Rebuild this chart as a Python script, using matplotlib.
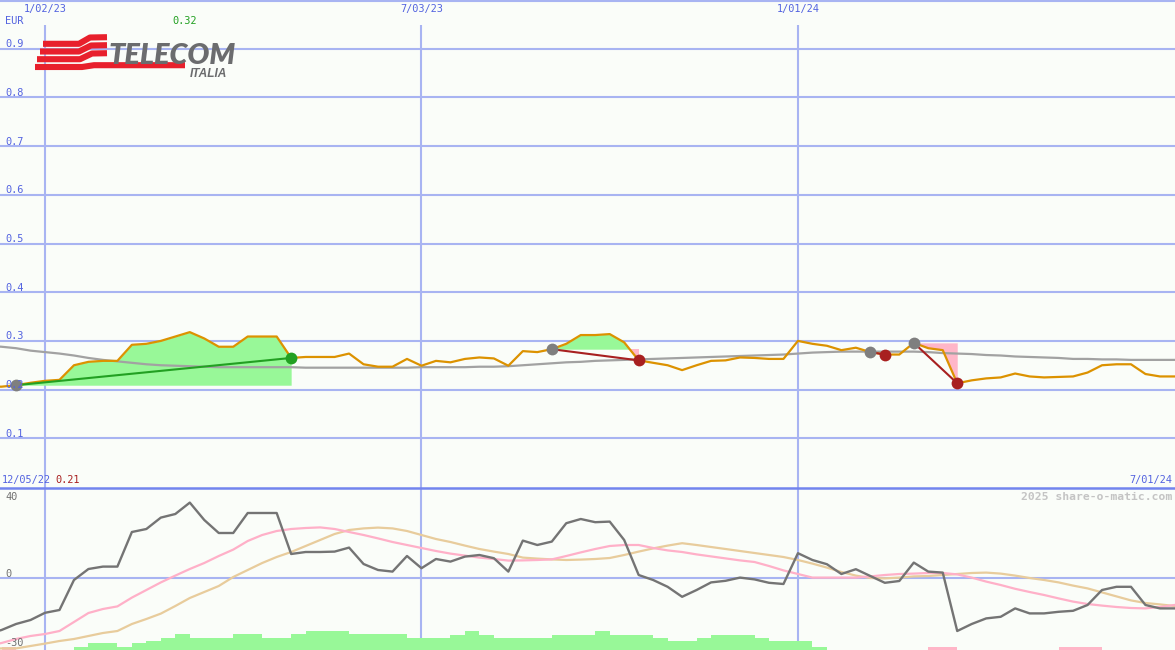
import numpy as np
import matplotlib
matplotlib.use("Agg")
import matplotlib.pyplot as plt
from matplotlib import font_manager as fm

# ---------------- data (weekly, week 0 = 12/05/22) ----------------
weeks = list(range(0, 83))

price = [0.206, 0.206, 0.209, 0.214, 0.218, 0.220, 0.250, 0.257, 0.259, 0.259,
         0.292, 0.294, 0.300, 0.309, 0.318, 0.305, 0.288, 0.288, 0.309, 0.309,
         0.309, 0.265, 0.267, 0.267, 0.267, 0.274, 0.252, 0.247, 0.247, 0.263,
         0.249, 0.259, 0.256, 0.263, 0.266, 0.264, 0.249, 0.279, 0.277, 0.283,
         0.294, 0.312, 0.312, 0.314, 0.297, 0.260, 0.255, 0.250, 0.240, 0.250,
         0.259, 0.260, 0.266, 0.265, 0.263, 0.263, 0.300, 0.294, 0.290, 0.281,
         0.286, 0.277, 0.272, 0.272, 0.296, 0.285, 0.281, 0.213, 0.219, 0.223,
         0.225, 0.233, 0.227, 0.225, 0.226, 0.227, 0.235, 0.250, 0.252, 0.252,
         0.232, 0.227, 0.227]

price_ma = [0.290, 0.288, 0.285, 0.280, 0.277, 0.274, 0.270, 0.265, 0.261, 0.258,
            0.255, 0.252, 0.250, 0.249, 0.248, 0.247, 0.246, 0.246, 0.246, 0.246,
            0.246, 0.246, 0.245, 0.245, 0.245, 0.245, 0.245, 0.245, 0.245, 0.245,
            0.246, 0.246, 0.246, 0.246, 0.247, 0.247, 0.248, 0.250, 0.252, 0.254,
            0.256, 0.257, 0.259, 0.260, 0.261, 0.262, 0.263, 0.264, 0.265, 0.266,
            0.267, 0.268, 0.269, 0.270, 0.271, 0.272, 0.274, 0.276, 0.277, 0.278,
            0.278, 0.278, 0.278, 0.278, 0.278, 0.277, 0.275, 0.274, 0.273, 0.271,
            0.270, 0.268, 0.267, 0.266, 0.265, 0.263, 0.263, 0.262, 0.262, 0.261,
            0.261, 0.261, 0.261]

# trades: (buy week, sell week)
trades = [(2, 21), (39, 45), (61, 62), (64, 67)]

momentum = [-28, -26, -23, -21, -17.4, -16, -1, 4.5, 5.7, 5.7,
            23, 24.5, 30.2, 32, 37.7, 29, 22.5, 22.5, 32.5, 32.5,
            32.5, 12, 13, 13, 13.2, 15.2, 7, 4, 3.2, 11,
            4.9, 9.5, 8.2, 10.7, 11.5, 9.9, 3.2, 18.7, 16.5, 18.2,
            27.4, 29.5, 27.9, 28.2, 19, 1.5, -1, -4.4, -9.4, -6,
            -2.2, -1.4, 0.2, -0.7, -2.4, -3, 12.4, 9, 6.9, 2,
            4.4, 1, -2.4, -1.5, 7.7, 3.2, 2.7, -26.5, -23, -20.2,
            -19.4, -15.2, -17.7, -17.7, -16.9, -16.4, -13.5, -6, -4.4, -4.4,
            -13.5, -15.2, -15.2]

signal_fast = [-34, -32.5, -30.5, -29, -28, -26.5, -22, -17.5, -15.5, -14.2,
               -9.8, -6, -2.2, 1.2, 4.5, 7.5, 11, 14.2, 18.5, 21.5,
               23.5, 24.5, 25, 25.3, 24.5, 23, 21.5, 19.8, 18, 16.5,
               15, 13.5, 12.2, 11.2, 10.2, 9.5, 8.7, 8.8, 9, 9.3,
               11, 12.8, 14.5, 16, 16.5, 16.5, 15, 13.8, 13, 11.8,
               10.8, 9.8, 8.8, 8, 6, 3.8, 2, 0.2, 0.2, 0.2,
               0.2, 0.8, 1.5, 2, 2.2, 2.5, 2.5, 1.8, 0.2, -1.8,
               -3.5, -5.4, -7, -8.5, -10.2, -11.8, -13, -13.8, -14.5, -15,
               -15.2, -14.5, -13.5]

signal_slow = [-35.5, -35.2, -35.2, -34, -32.8, -31.5, -30.5, -29, -27.5, -26.5,
               -23, -20.5, -17.8, -14, -10, -7, -4, 0.5, 4, 7.5,
               10.5, 13, 16, 19, 22, 24, 24.8, 25.2, 24.8, 23.5,
               21.5, 19.5, 18, 16.2, 14.5, 13.2, 12, 10.2, 9.7, 9.3,
               9, 9.2, 9.5, 10, 11.5, 13.2, 14.8, 16.2, 17.4, 16.5,
               15.5, 14.5, 13.5, 12.5, 11.5, 10.5, 9, 7.2, 5.2, 3,
               1.2, 0, -0.2, 0.2, 0.8, 1, 1.5, 2, 2.5, 2.7,
               2.2, 1.2, 0, -1, -2.2, -3.8, -5.2, -7.2, -9.2, -11.2,
               -12.5, -13.2, -14]

bar_up_weeks = [6, 7, 8, 9, 10, 11, 12, 13, 14, 15, 16, 17, 18, 19, 20, 21, 22, 23, 24,
                25, 26, 27, 28, 29, 30, 31, 32, 33, 34, 35, 36, 37, 38, 39, 40, 41,
                42, 43, 44, 45, 46, 47, 48, 49, 50, 51, 52, 53, 54, 55, 56, 57]
bar_up = [1.65, 3.3, 3.3, 1.65, 3.3, 4.6, 6.0, 7.8, 6.0, 6.0, 6.0, 7.8, 7.8, 6.0, 6.0,
          7.8, 9.5, 9.5, 9.5, 7.8, 7.8, 7.8, 7.8, 6.0, 6.0, 6.0, 7.5, 9.5, 7.5, 6.0,
          6.0, 6.0, 6.0, 7.5, 7.5, 7.5, 9.5, 7.5, 7.5, 7.5, 6.0, 4.6, 4.6, 6.0, 7.5,
          7.5, 7.5, 6.0, 4.6, 4.6, 4.6, 1.65]
bar_dn_weeks = [1, 65, 66, 74, 75, 76]
bar_dn = [1.65, 1.65, 1.65, 1.65, 1.65, 1.65]

date_ticks = [4, 30, 56]
date_labels = ["1/02/23", "7/03/23", "1/01/24"]
price_grid = [0.1, 0.2, 0.3, 0.4, 0.5, 0.6, 0.7, 0.8, 0.9]
price_grid_labels = ["0.1", "0.2", "0.3", "0.4", "0.5", "0.6", "0.7", "0.8", "0.9"]
osc_labels_vals = [40, 0, -30]
start_label = "12/05/22"
end_label = "7/01/24"

# ---------------- style ----------------
W, H = 1175, 650
BG = "#fafdf9"
GRID = "#a8b4f2"
SEP = "#7284ee"
BLUE_TXT = "#5363e0"
ORANGE = "#dc9200"
GRAY_MA = "#a2a2a2"
GREEN = "#22a022"
DARKRED = "#a82020"
MONO = "DejaVu Sans Mono"

fig = plt.figure(figsize=(W / 100, H / 100), dpi=100, facecolor=BG)

top_px = 487
ax1 = fig.add_axes([0, (H - top_px) / H, 1, top_px / H])
ax2 = fig.add_axes([0, 0, 1, (H - top_px) / H])
xlim = (0.892, 82.04)
for ax in (ax1, ax2):
    ax.set_facecolor(BG)
    ax.set_xlim(*xlim)
    for s in ax.spines.values():
        s.set_visible(False)
    ax.set_xticks([])
    ax.set_yticks([])

ax1.set_ylim(0, 1.0)
ax2.set_ylim(-36, 45.5)

# ---- grid ----
for g in price_grid:
    ax1.axhline(g, color=GRID, lw=1.5, zorder=1)
ax1.axhline(0.998, color=GRID, lw=1.5, zorder=1)
ax1.vlines(date_ticks, 0, 0.949, color=GRID, lw=1.5, zorder=1)
ax2.vlines(date_ticks, -36, 45.5, color=GRID, lw=1.5, zorder=1)
ax2.axhline(0, color=GRID, lw=1.5, zorder=1)
ax2.axhline(45.2, color=SEP, lw=1.8, zorder=5, clip_on=False)

# ---- top panel data ----
w = np.array(weeks)
p = np.array(price)
ax1.plot(w, price_ma, color=GRAY_MA, lw=1.6, zorder=3)

for b, s in trades:
    ww = w[b:s + 1]
    seg = p[b:s + 1]
    lvl = p[b]
    ax1.fill_between(ww, lvl, seg, where=seg >= lvl, interpolate=True,
                     color="#98f898", lw=0, zorder=2)
    ax1.fill_between(ww, lvl, seg, where=seg <= lvl, interpolate=True,
                     color="#ffb6c8", lw=0, zorder=2)

ax1.plot(w, p, color=ORANGE, lw=1.6, zorder=4)

for b, s in trades:
    win = p[s] >= p[b]
    c = GREEN if win else DARKRED
    ax1.plot([w[b], w[s]], [p[b], p[s]], color=c, lw=1.5, zorder=5)
    ax1.plot(w[b], p[b], "o", ms=8.5, color="#7f7f7f", zorder=6, mec="none")
    ax1.plot(w[s], p[s], "o", ms=8.5, color=c, zorder=6, mec="none")

# ---- bottom panel data ----
ax2.bar(bar_up_weeks, bar_up, width=1.0, bottom=-36, align="edge",
        color="#98f898", lw=0, zorder=2)
ax2.bar(bar_dn_weeks, bar_dn, width=1.0, bottom=-36, align="edge",
        color="#ffb6c8", lw=0, zorder=2)
ax2.plot(w, signal_slow, color="#e8cc9c", lw=1.6, zorder=3)
ax2.plot(w, signal_fast, color="#ffb0c8", lw=1.6, zorder=3)
ax2.plot(w, momentum, color="#747474", lw=1.7, zorder=4)

# ---- texts ----
def ftxt(px, py, s, **kw):
    fig.text(px / W, 1 - py / H, s, family=MONO, **kw)

for v, lab in zip(price_grid, price_grid_labels):
    py = top_px - v * top_px - 1.5
    ftxt(5, py, lab, fontsize=7.4, color=BLUE_TXT, va="baseline", ha="left")
ftxt(5, 24, "EUR", fontsize=7.4, color=BLUE_TXT, va="baseline")
ftxt(172, 24, f"{max(price):.2f}", fontsize=7.4, color=GREEN, va="baseline")

xpx = lambda wk: (wk - xlim[0]) / (xlim[1] - xlim[0]) * W
for t, lab in zip(date_ticks, date_labels):
    ftxt(xpx(t), 12, lab, fontsize=7.4, color=BLUE_TXT, va="baseline", ha="center")

ftxt(2, 483, start_label, fontsize=7.4, color=BLUE_TXT, va="baseline")
ftxt(55, 483, f"{min(price):.2f}", fontsize=7.4, color=DARKRED, va="baseline")
ftxt(1172, 483, end_label, fontsize=7.4, color=BLUE_TXT, va="baseline", ha="right")
ftxt(1172, 500, "2025 share-o-matic.com", fontsize=8.2, color="#c4c4c4",
     va="baseline", ha="right", weight="bold")
for v, py in zip(osc_labels_vals, [500, 577, 646]):
    ftxt(5, py, str(v), fontsize=7.4, color="#707070", va="baseline")

# ---- logo ----
lax = fig.add_axes([30 / W, 1 - 85 / H, 210 / W, 55 / H])
lax.set_xlim(30, 240)
lax.set_ylim(85, 30)
lax.axis("off")
red = "#e8202c"
stripes = [
    [(43, 43.8), (79, 43.8), (90, 37.5), (107, 37.2)],
    [(40, 51.5), (79, 51.5), (91, 45.5), (107, 45.2)],
    [(37, 59.2), (80, 59.2), (92, 53.5), (107, 53.2)],
    [(35, 67.0), (82, 67.0), (94, 65.2), (185, 65.2)],
]
for st in stripes:
    xs, ys = zip(*st)
    lax.plot(xs, ys, color=red, lw=4.4, solid_capstyle="butt",
             solid_joinstyle="round")

names = {f.name for f in fm.fontManager.ttflist}
if "Lato" in names:
    lfam, lsize = "Lato", 20.8
else:
    lfam, lsize = "Liberation Sans", 19.5
lax.text(109, 63.5, "TELECOM", family=lfam, fontsize=lsize, weight="heavy",
         style="italic", color="#6b6c6e", va="baseline", ha="left")
lax.text(190, 77, "ITALIA", family="Liberation Sans", fontsize=8.6, weight="bold",
         style="italic", color="#6b6c6e", va="baseline", ha="left")

fig.savefig("out.png", dpi=100, facecolor=BG)
